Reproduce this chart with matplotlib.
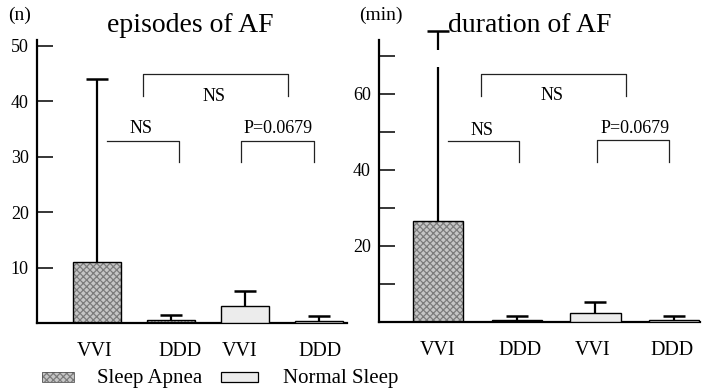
import numpy as np
import matplotlib
matplotlib.use('Agg')
from matplotlib import pyplot as plt
from matplotlib.patches import Rectangle

plt.rcParams['font.family'] = ['Liberation Serif', 'DejaVu Serif']
plt.rcParams['hatch.linewidth'] = 0.9

# data
groups = ['VVI', 'DDD', 'VVI', 'DDD']
series = ['Sleep Apnea', 'Sleep Apnea', 'Normal Sleep', 'Normal Sleep']
episodes_mean = [11, 0.5, 3.0, 0.4]
episodes_top = [44, 1.5, 5.7, 1.3]
duration_mean = [26.6, 0.4, 2.4, 0.5]
duration_top = [76.6, 1.6, 5.3, 1.6]
duration_break = (67.0, 71.6)   # broken error bar of the first bar

legend_labels = ['Sleep Apnea', 'Normal Sleep']

SA_FACE = '#c6c6c6'
SA_HATCH = '#7c7c7c'
NS_FACE = '#ececec'

fig = plt.figure(figsize=(7.02, 3.89), dpi=100)
ax1 = fig.add_axes([37 / 702, 66 / 389, 310 / 702, 283 / 389])
ax2 = fig.add_axes([379 / 702, 67 / 389, 321 / 702, 282 / 389])


def draw_bars(ax, means, tops, width):
    x = np.arange(len(means))
    for i in range(len(means)):
        if series[i] == 'Sleep Apnea':
            ax.bar(x[i], means[i], width, color=SA_FACE, edgecolor=SA_HATCH,
                   hatch='xxxxx', linewidth=0, zorder=2)
            ax.bar(x[i], means[i], width, fill=False, edgecolor='black',
                   linewidth=1.0, zorder=3)
        else:
            ax.bar(x[i], means[i], width, color=NS_FACE, edgecolor='black',
                   linewidth=1.0, zorder=3)
    # upper error bars only
    ax.vlines(x, means, tops, color='black', linewidth=1.6, zorder=4,
              clip_on=False)
    ax.plot(x, tops, linestyle='none', marker='_', markersize=16,
            markeredgewidth=1.8, color='black', zorder=4, clip_on=False)
    return x


def bracket(ax, x0, x1, y, y_left, y_right, label, lx, ly):
    xs, ys = [], []
    if y_left is not None:
        xs += [x0]
        ys += [y_left]
    xs += [x0, x1]
    ys += [y, y]
    if y_right is not None:
        xs += [x1]
        ys += [y_right]
    ax.plot(xs, ys, color='#222222', linewidth=0.9, zorder=5, clip_on=False)
    ax.text(lx, ly, label, ha='center', va='center', fontsize=13)


def style_axis(ax):
    for s in ['top', 'right']:
        ax.spines[s].set_visible(False)
    ax.spines['left'].set_linewidth(1.6)
    ax.spines['bottom'].set_linewidth(1.6)
    ax.tick_params(axis='y', which='both', direction='in', length=11.5,
                   width=1.1, labelsize=13, pad=6)
    ax.tick_params(axis='x', length=0, labelsize=14.5, pad=14)


# left panel: episodes
draw_bars(ax1, episodes_mean, episodes_top, 0.65)
ax1.set_xlim(-0.81, 3.38)
ax1.set_ylim(0, 51)
ax1.set_yticks([10, 20, 30, 40, 50])
ax1.set_xticks([-0.03, 1.12, 1.93, 3.01])
ax1.set_xticklabels(groups)
style_axis(ax1)
bracket(ax1, 0.62, 2.58, 44.9, 40.9, 40.9, 'NS', 1.58, 40.9)
bracket(ax1, 0.135, 1.11, 32.8, None, 29.0, 'NS', 0.59, 35.1)
bracket(ax1, 1.95, 2.93, 32.8, 29.0, 29.0, 'P=0.0679', 2.45, 35.1)
fig.text(190 / 702, 1 - 25 / 389, 'episodes of AF', fontsize=20,
         ha='center', va='center')
fig.text(20 / 702, 1 - 15 / 389, '(n)', fontsize=14, ha='center', va='center')

# right panel: duration
draw_bars(ax2, duration_mean, duration_top, 0.64)
# gap in the long error bar
ax2.plot([0, 0], duration_break, color='white', linewidth=3, zorder=5,
         clip_on=False, solid_capstyle='butt')
ax2.set_xlim(-0.75, 3.33)
ax2.set_ylim(0, 74.2)
ax2.set_yticks([20, 40, 60])
ax2.set_yticks([10, 30, 50, 70], minor=True)
ax2.set_xticks([0, 1.04, 1.96, 2.97])
ax2.set_xticklabels(groups)
style_axis(ax2)
bracket(ax2, 0.55, 2.39, 65.3, 59.5, 59.5, 'NS', 1.45, 59.5)
bracket(ax2, 0.13, 1.03, 47.6, None, 42.1, 'NS', 0.56, 50.5)
bracket(ax2, 2.02, 2.94, 47.9, 42.1, 42.1, 'P=0.0679', 2.5, 51.0)
fig.text(530 / 702, 1 - 25 / 389, 'duration of AF', fontsize=20,
         ha='center', va='center')
fig.text(381 / 702, 1 - 15 / 389, '(min)', fontsize=14, ha='center',
         va='center')

# legend drawn by hand
r1 = Rectangle((42 / 702, 1 - 382 / 389), 32 / 702, 10 / 389,
               transform=fig.transFigure, facecolor=SA_FACE, edgecolor=SA_HATCH,
               hatch='xxxxx', linewidth=0)
r1b = Rectangle((42 / 702, 1 - 382 / 389), 32 / 702, 10 / 389,
                transform=fig.transFigure, fill=False, edgecolor='#555555',
                linewidth=0.6)
r2 = Rectangle((221 / 702, 1 - 382 / 389), 37 / 702, 10 / 389,
               transform=fig.transFigure, facecolor=NS_FACE, edgecolor='black',
               linewidth=0.9)
fig.patches.extend([r1, r1b, r2])
fig.text(97 / 702, 1 - 378 / 389, legend_labels[0], fontsize=15,
         ha='left', va='center')
fig.text(283 / 702, 1 - 379 / 389, legend_labels[1], fontsize=15,
         ha='left', va='center')

fig.savefig('out.png', dpi=100)
